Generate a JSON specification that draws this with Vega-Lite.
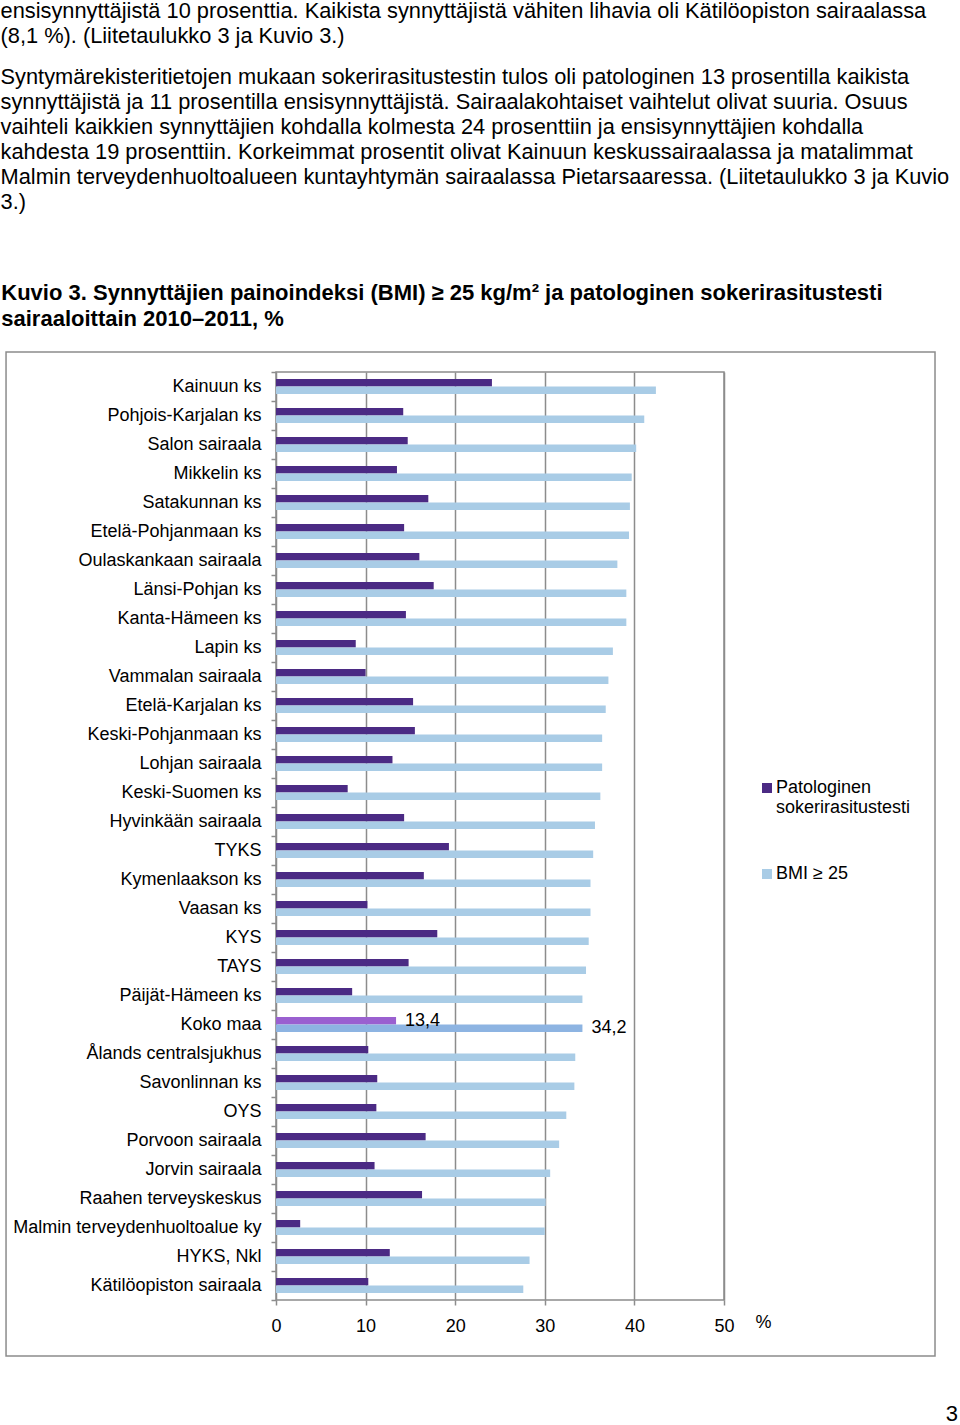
{
  "$schema": "https://vega.github.io/schema/vega-lite/v6.json",
  "background": "white",
  "padding": {"left": 0, "top": 0, "right": 0, "bottom": 0},
  "title": {
    "text": [
      "ensisynnyttäjistä 10 prosenttia. Kaikista synnyttäjistä vähiten lihavia oli Kätilöopiston sairaalassa",
      "(8,1 %). (Liitetaulukko 3 ja Kuvio 3.)"
    ],
    "subtitle": [
      "Syntymärekisteritietojen mukaan sokerirasitustestin tulos oli patologinen 13 prosentilla kaikista",
      "synnyttäjistä ja 11 prosentilla ensisynnyttäjistä. Sairaalakohtaiset vaihtelut olivat suuria. Osuus",
      "vaihteli kaikkien synnyttäjien kohdalla kolmesta 24 prosenttiin ja ensisynnyttäjien kohdalla",
      "kahdesta 19 prosenttiin. Korkeimmat prosentit olivat Kainuun keskussairaalassa ja matalimmat",
      "Malmin terveydenhuoltoalueen kuntayhtymän sairaalassa Pietarsaaressa. (Liitetaulukko 3 ja Kuvio",
      "3.)"
    ],
    "anchor": "start",
    "frame": "bounds",
    "font": "Liberation Sans",
    "fontSize": 21.8,
    "fontWeight": "normal",
    "lineHeight": 25,
    "color": "black",
    "subtitleFont": "Liberation Sans",
    "subtitleFontSize": 21.8,
    "subtitleLineHeight": 25,
    "subtitleColor": "black",
    "subtitlePadding": 19,
    "offset": 68
  },
  "vconcat": [
    {
      "title": {
        "text": [
          "Kuvio 3. Synnyttäjien painoindeksi (BMI) ≥ 25 kg/m² ja patologinen sokerirasitustesti",
          "sairaaloittain 2010–2011, %"
        ],
        "anchor": "start",
        "frame": "bounds",
        "dx": -4,
        "font": "Liberation Sans",
        "fontSize": 22,
        "fontWeight": "bold",
        "lineHeight": 26,
        "color": "black",
        "offset": 20
      },
      "width": 448,
      "height": 928,
      "resolve": {"scale": {"y": "independent"}, "axis": {"y": "independent"}},
      "layer": [
        {
          "data": {"values": [{"frame": "box"}]},
          "mark": {"type": "rect", "fill": null, "fillOpacity": 0, "stroke": "#8c8c8c", "strokeWidth": 1.5, "clip": false},
          "encoding": {
            "x": {"datum": -30.13, "type": "quantitative", "scale": {"domain": [0, 50], "nice": false, "zero": false}},
            "x2": {"datum": 73.55},
            "y": {"datum": -1.931, "type": "quantitative", "scale": {"domain": [0, 32], "nice": false, "zero": false}, "axis": null},
            "y2": {"datum": 32.69}
          }
        },
        {
          "data": {
            "values": [
              {"name": "Kainuun ks", "series": "Patologinen sokerirasitustesti", "value": 24.1},
              {"name": "Kainuun ks", "series": "BMI ≥ 25", "value": 42.4},
              {"name": "Pohjois-Karjalan ks", "series": "Patologinen sokerirasitustesti", "value": 14.2},
              {"name": "Pohjois-Karjalan ks", "series": "BMI ≥ 25", "value": 41.1},
              {"name": "Salon sairaala", "series": "Patologinen sokerirasitustesti", "value": 14.7},
              {"name": "Salon sairaala", "series": "BMI ≥ 25", "value": 40.2},
              {"name": "Mikkelin ks", "series": "Patologinen sokerirasitustesti", "value": 13.5},
              {"name": "Mikkelin ks", "series": "BMI ≥ 25", "value": 39.7},
              {"name": "Satakunnan ks", "series": "Patologinen sokerirasitustesti", "value": 17.0},
              {"name": "Satakunnan ks", "series": "BMI ≥ 25", "value": 39.5},
              {"name": "Etelä-Pohjanmaan ks", "series": "Patologinen sokerirasitustesti", "value": 14.3},
              {"name": "Etelä-Pohjanmaan ks", "series": "BMI ≥ 25", "value": 39.4},
              {"name": "Oulaskankaan sairaala", "series": "Patologinen sokerirasitustesti", "value": 16.0},
              {"name": "Oulaskankaan sairaala", "series": "BMI ≥ 25", "value": 38.1},
              {"name": "Länsi-Pohjan ks", "series": "Patologinen sokerirasitustesti", "value": 17.6},
              {"name": "Länsi-Pohjan ks", "series": "BMI ≥ 25", "value": 39.1},
              {"name": "Kanta-Hämeen ks", "series": "Patologinen sokerirasitustesti", "value": 14.5},
              {"name": "Kanta-Hämeen ks", "series": "BMI ≥ 25", "value": 39.1},
              {"name": "Lapin ks", "series": "Patologinen sokerirasitustesti", "value": 8.9},
              {"name": "Lapin ks", "series": "BMI ≥ 25", "value": 37.6},
              {"name": "Vammalan sairaala", "series": "Patologinen sokerirasitustesti", "value": 10.0},
              {"name": "Vammalan sairaala", "series": "BMI ≥ 25", "value": 37.1},
              {"name": "Etelä-Karjalan ks", "series": "Patologinen sokerirasitustesti", "value": 15.3},
              {"name": "Etelä-Karjalan ks", "series": "BMI ≥ 25", "value": 36.8},
              {"name": "Keski-Pohjanmaan ks", "series": "Patologinen sokerirasitustesti", "value": 15.5},
              {"name": "Keski-Pohjanmaan ks", "series": "BMI ≥ 25", "value": 36.4},
              {"name": "Lohjan sairaala", "series": "Patologinen sokerirasitustesti", "value": 13.0},
              {"name": "Lohjan sairaala", "series": "BMI ≥ 25", "value": 36.4},
              {"name": "Keski-Suomen ks", "series": "Patologinen sokerirasitustesti", "value": 8.0},
              {"name": "Keski-Suomen ks", "series": "BMI ≥ 25", "value": 36.2},
              {"name": "Hyvinkään sairaala", "series": "Patologinen sokerirasitustesti", "value": 14.3},
              {"name": "Hyvinkään sairaala", "series": "BMI ≥ 25", "value": 35.6},
              {"name": "TYKS", "series": "Patologinen sokerirasitustesti", "value": 19.3},
              {"name": "TYKS", "series": "BMI ≥ 25", "value": 35.4},
              {"name": "Kymenlaakson ks", "series": "Patologinen sokerirasitustesti", "value": 16.5},
              {"name": "Kymenlaakson ks", "series": "BMI ≥ 25", "value": 35.1},
              {"name": "Vaasan ks", "series": "Patologinen sokerirasitustesti", "value": 10.2},
              {"name": "Vaasan ks", "series": "BMI ≥ 25", "value": 35.1},
              {"name": "KYS", "series": "Patologinen sokerirasitustesti", "value": 18.0},
              {"name": "KYS", "series": "BMI ≥ 25", "value": 34.9},
              {"name": "TAYS", "series": "Patologinen sokerirasitustesti", "value": 14.8},
              {"name": "TAYS", "series": "BMI ≥ 25", "value": 34.6},
              {"name": "Päijät-Hämeen ks", "series": "Patologinen sokerirasitustesti", "value": 8.5},
              {"name": "Päijät-Hämeen ks", "series": "BMI ≥ 25", "value": 34.2},
              {"name": "Koko maa", "series": "Patologinen sokerirasitustesti", "value": 13.4},
              {"name": "Koko maa", "series": "BMI ≥ 25", "value": 34.2},
              {"name": "Ålands centralsjukhus", "series": "Patologinen sokerirasitustesti", "value": 10.3},
              {"name": "Ålands centralsjukhus", "series": "BMI ≥ 25", "value": 33.4},
              {"name": "Savonlinnan ks", "series": "Patologinen sokerirasitustesti", "value": 11.3},
              {"name": "Savonlinnan ks", "series": "BMI ≥ 25", "value": 33.3},
              {"name": "OYS", "series": "Patologinen sokerirasitustesti", "value": 11.2},
              {"name": "OYS", "series": "BMI ≥ 25", "value": 32.4},
              {"name": "Porvoon sairaala", "series": "Patologinen sokerirasitustesti", "value": 16.7},
              {"name": "Porvoon sairaala", "series": "BMI ≥ 25", "value": 31.6},
              {"name": "Jorvin sairaala", "series": "Patologinen sokerirasitustesti", "value": 11.0},
              {"name": "Jorvin sairaala", "series": "BMI ≥ 25", "value": 30.6},
              {"name": "Raahen terveyskeskus", "series": "Patologinen sokerirasitustesti", "value": 16.3},
              {"name": "Raahen terveyskeskus", "series": "BMI ≥ 25", "value": 30.1},
              {"name": "Malmin terveydenhuoltoalue ky", "series": "Patologinen sokerirasitustesti", "value": 2.7},
              {"name": "Malmin terveydenhuoltoalue ky", "series": "BMI ≥ 25", "value": 30.0},
              {"name": "HYKS, Nkl", "series": "Patologinen sokerirasitustesti", "value": 12.7},
              {"name": "HYKS, Nkl", "series": "BMI ≥ 25", "value": 28.3},
              {"name": "Kätilöopiston sairaala", "series": "Patologinen sokerirasitustesti", "value": 10.3},
              {"name": "Kätilöopiston sairaala", "series": "BMI ≥ 25", "value": 27.6}
            ]
          },
          "encoding": {
            "y": {
              "field": "name", "type": "nominal", "sort": null,
              "scale": {"paddingInner": 0, "paddingOuter": 0},
              "axis": {
                "title": null, "tickBand": "extent", "domain": false, "grid": false,
                "tickSize": 5, "tickColor": "#8c8c8c", "tickWidth": 1.5,
                "labelPadding": 10, "labelFontSize": 18, "labelFont": "Liberation Sans",
                "labelColor": "black", "labelLimit": 400
              }
            },
            "yOffset": {
              "field": "series", "type": "nominal",
              "scale": {"domain": ["Patologinen sokerirasitustesti", "BMI ≥ 25"], "paddingInner": 0, "paddingOuter": 0.933}
            },
            "x": {
              "field": "value", "type": "quantitative",
              "scale": {"domain": [0, 50], "nice": false, "zero": false},
              "axis": {
                "domain": false, "grid": true,
                "values": [0, 10, 20, 30, 40, 50],
                "gridColor": "#8c8c8c", "gridWidth": 1.5,
                "tickSize": 5, "tickWidth": 1.5, "tickColor": "#8c8c8c",
                "labelPadding": 12, "labelFontSize": 18, "labelFont": "Liberation Sans",
                "labelColor": "black", "labelFlush": false, "labelOverlap": false,
                "title": "%", "titleAngle": 0, "titleAlign": "center", "titleBaseline": "middle",
                "titleX": 487, "titleY": 22, "titleFontSize": 18, "titleFontWeight": "normal",
                "titleFont": "Liberation Sans", "titleColor": "black"
              }
            }
          },
          "layer": [
            {
              "mark": {"type": "bar"},
              "encoding": {
                "x2": {"datum": 0},
                "color": {
                  "field": "series", "type": "nominal",
                  "scale": {"domain": ["Patologinen sokerirasitustesti", "BMI ≥ 25"], "range": ["#4b2a84", "#a9cce6"]},
                  "condition": [
                    {"test": "datum.name === 'Koko maa' && datum.series === 'BMI ≥ 25'", "value": "#8db4e2"},
                    {"test": "datum.name === 'Koko maa'", "value": "#9a60d0"}
                  ],
                  "legend": {
                    "title": null, "orient": "none", "legendX": 482, "legendY": 407,
                    "symbolType": "square", "symbolSize": 100, "symbolStrokeWidth": 0,
                    "labelFontSize": 18, "labelFont": "Liberation Sans", "labelColor": "black",
                    "labelLimit": 400, "labelOffset": 0, "padding": 0, "rowPadding": 48,
                    "labelExpr": "datum.label === 'BMI ≥ 25' ? datum.label : ['Patologinen', 'sokerirasitustesti']"
                  }
                }
              }
            },
            {
              "transform": [{"filter": "datum.name === 'Koko maa'"}],
              "mark": {"type": "text", "align": "left", "baseline": "middle", "dx": 9, "fontSize": 18, "font": "Liberation Sans", "color": "black"},
              "encoding": {
                "text": {"field": "value", "type": "quantitative", "format": ".1f"}
              }
            }
          ]
        }
      ]
    },
    {
      "width": 682,
      "height": 63,
      "view": {"stroke": null},
      "data": {"values": [{"page": "3"}]},
      "mark": {"type": "text", "align": "right", "baseline": "alphabetic", "fontSize": 22, "font": "Liberation Sans", "color": "black"},
      "encoding": {
        "x": {"value": "width"},
        "y": {"value": "height"},
        "text": {"field": "page", "type": "nominal"}
      }
    }
  ],
  "config": {
    "font": "Liberation Sans",
    "view": {"stroke": "#8c8c8c", "strokeWidth": 1.5},
    "concat": {"spacing": 0},
    "locale": {"number": {"decimal": ",", "thousands": " ", "grouping": [3], "currency": ["", " €"]}}
  }
}
